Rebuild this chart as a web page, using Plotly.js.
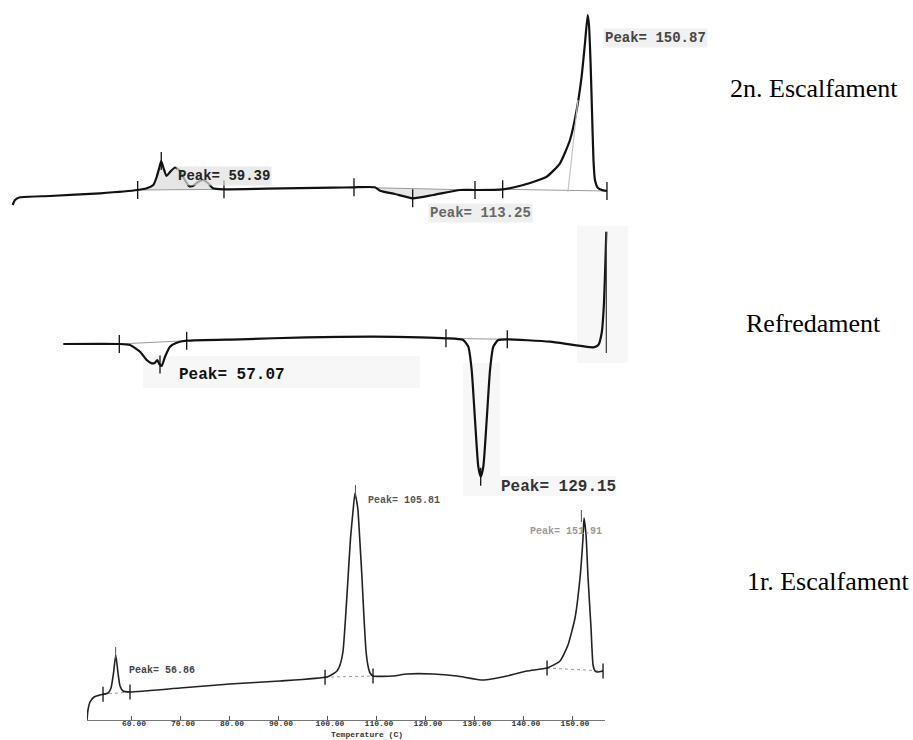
<!DOCTYPE html>
<html>
<head>
<meta charset="utf-8">
<script src="https://cdn.plot.ly/plotly-3.0.1.min.js"></script>
<style>html,body{margin:0;padding:0;background:#fff;}#chart{width:913px;height:740px;}</style>
</head>
<body>
<div id="chart"></div>
<script>
// ---------- DATA (temperature in °C, signal in arbitrary heat-flow units) ----------
const panelNames = ["2n. Escalfament", "Refredament", "1r. Escalfament"];

// 2n. Escalfament (second heating)
const heat2_T = [27.63, 28.13, 29.2, 35.62, 46.33, 54.4, 56.33, 57.74, 58.47, 59.07, 59.45, 59.93, 60.57, 61.32, 62.39, 63.46, 64.53, 65.39, 66.24, 67.31, 68.38, 69.45, 70.52, 72.88, 82.02, 96.28, 100.72, 105.21, 106.29, 109.5, 113.29, 117.7, 123.41, 126.63, 132.56, 136.97, 141.98, 144.83, 146.97, 148.4, 149.46, 150.18, 150.76, 151.04, 151.36, 151.68, 152.0, 152.32, 152.96, 153.82, 154.89];
const heat2_S = [-1.5, -1.0, -0.73, -0.6, -0.33, 0, 0.17, 0.5, 1.3, 2.3, 2.9, 2.2, 1.4, 1.8, 2.25, 1.9, 1.0, 0.4, 0.4, 0.8, 1.0, 0.7, 0.17, 0.07, 0.13, 0.23, 0.27, 0.27, -0.07, -0.4, -0.83, -0.5, 0, 0, 0.07, 0.5, 1.33, 2.67, 5.0, 8.0, 11.33, 14.67, 17.5, 16.5, 13.0, 8.0, 3.0, 1.0, 0.2, 0, -0.1];
const heat2_limits = [54.4, 59.45, 72.88, 100.72, 113.29, 126.63, 132.56, 154.89];
const heat2_baseStart = [54.4, 100.72, 132.56];
const heat2_baseEnd = [72.88, 126.63, 154.89];
const heat2_peaks = [59.39, 113.25, 150.87];

// Refredament (cooling)
const cool_T = [35.29, 47.9, 50.31, 52.57, 54.07, 55.2, 55.94, 56.46, 56.91, 57.45, 58.2, 59.32, 60.83, 63.08, 75.09, 90.11, 105.04, 115.63, 121.48, 125.38, 126.51, 127.27, 128.02, 128.76, 129.3, 129.89, 130.65, 131.4, 132.14, 133.26, 135.29, 144.91, 154.66, 155.79, 156.55, 157.07, 157.45, 157.59];
const cool_S = [0, 0, -0.1, -0.77, -1.6, -1.93, -1.87, -1.6, -2.0, -2.2, -1.27, -0.27, 0.13, 0.33, 0.47, 0.67, 0.73, 0.67, 0.57, 0.4, -0.27, -2.6, -7.6, -12.27, -13.27, -12.27, -7.6, -2.6, -0.27, 0.4, 0.47, 0.23, -0.33, -0.1, 1.1, 4.1, 9.1, 11.23];
const cool_limits = [47.9, 57.07, 63.08, 121.48, 129.3, 135.29];
const cool_baseStart = [47.9, 121.48];
const cool_baseEnd = [63.08, 135.29];
const cool_peaks = [57.07, 129.15];
const cool_endT = [157.6, 157.6];
const cool_endS = [11.2, -0.9];

// 1r. Escalfament (first heating)
const heat1_T = [51.02, 51.22, 51.63, 52.45, 53.67, 55.31, 55.92, 56.43, 56.88, 57.35, 57.76, 58.37, 59.8, 70.0, 80.2, 90.4, 100.0, 101.2, 102.04, 102.65, 103.27, 103.78, 104.29, 104.8, 105.31, 105.71, 106.12, 106.33, 106.73, 107.14, 107.55, 107.96, 108.37, 108.78, 109.39, 113.47, 116.33, 121.63, 126.53, 131.84, 136.73, 140.82, 144.9, 147.55, 149.18, 150.61, 151.63, 152.24, 152.45, 152.86, 153.27, 153.88, 154.29, 154.69, 155.1, 156.33];
const heat1_S = [0, 1.0, 1.8, 2.3, 2.5, 2.7, 3.2, 4.7, 6.5, 4.7, 3.4, 2.9, 2.8, 3.2, 3.6, 3.9, 4.3, 4.6, 4.9, 5.5, 6.9, 10.2, 14.2, 18.2, 20.9, 22.7, 21.7, 20.9, 17.7, 14.2, 10.2, 6.9, 5.4, 4.7, 4.4, 4.4, 4.6, 4.6, 4.4, 4.0, 4.4, 4.9, 5.2, 5.9, 7.5, 10.2, 14.2, 18.2, 20.2, 18.5, 14.2, 9.2, 5.5, 4.9, 4.8, 4.9];
const heat1_limits = [54.29, 59.8, 99.6, 109.39, 144.9, 156.33];
const heat1_baseStart = [54.29, 99.6, 144.9];
const heat1_baseEnd = [59.8, 109.39, 156.33];
const heat1_peaks = [56.86, 105.81, 151.91];

const tempTicks = [60, 70, 80, 90, 100, 110, 120, 130, 140, 150];
const tempTickText = ["60.00", "70.00", "80.00", "90.00", "100.00", "110.00", "120.00", "130.00", "140.00", "150.00"];
const xTitle = "Temperature (C)";

// ---------- helpers ----------
const W = 913, H = 740;
const fx = p => p / W;
const fy = p => 1 - p / H;
function interp(T, S, t) {
  if (t <= T[0]) return S[0];
  for (let i = 1; i < T.length; i++) {
    if (t <= T[i]) { const r = (t - T[i-1]) / (T[i] - T[i-1]); return S[i-1] + r * (S[i] - S[i-1]); }
  }
  return S[S.length - 1];
}

const panels = [
  {T: heat2_T, S: heat2_S, lim: heat2_limits, bs: heat2_baseStart, be: heat2_baseEnd, xa: 'x', ya: 'y', lw: 2.2, half: 0.9, col: '#111',
   fills: [[0], [1]]},
  {T: cool_T, S: cool_S, lim: cool_limits, bs: cool_baseStart, be: cool_baseEnd, xa: 'x2', ya: 'y2', lw: 2.2, half: 0.9, col: '#111', fills: []},
  {T: heat1_T, S: heat1_S, lim: heat1_limits, bs: heat1_baseStart, be: heat1_baseEnd, xa: 'x3', ya: 'y3', lw: 1.6, half: 0.75, col: '#222', fills: []}
];

const traces = [];
panels.forEach((p, k) => {
  // shaded peak areas (top panel)
  p.fills.forEach(([i]) => {
    const t0 = p.bs[i], t1 = p.be[i];
    traces.push({x: [t0, t1], y: [interp(p.T, p.S, t0), interp(p.T, p.S, t1)], xaxis: p.xa, yaxis: p.ya,
      mode: 'lines', line: {color: 'rgba(0,0,0,0)', width: 0}, hoverinfo: 'skip', showlegend: false});
    const xs = [], ys = [];
    p.T.forEach((t, j) => { if (t >= t0 && t <= t1) { xs.push(t); ys.push(p.S[j]); } });
    traces.push({x: xs, y: ys, xaxis: p.xa, yaxis: p.ya, mode: 'lines', fill: 'tonexty',
      fillcolor: 'rgba(200,200,200,0.45)', line: {color: 'rgba(0,0,0,0)', width: 0}, hoverinfo: 'skip', showlegend: false});
  });
  // integration baselines
  p.bs.forEach((t0, i) => {
    const t1 = p.be[i];
    traces.push({x: [t0, t1], y: [interp(p.T, p.S, t0), interp(p.T, p.S, t1)], xaxis: p.xa, yaxis: p.ya,
      mode: 'lines', line: {color: '#9a9a9a', width: 1, dash: k === 2 ? 'dot' : 'solid'}, hoverinfo: 'skip', showlegend: false});
  });
  // the curve
  traces.push({x: p.T, y: p.S, xaxis: p.xa, yaxis: p.ya, mode: 'lines',
    line: {color: p.col, width: p.lw, shape: 'spline', smoothing: 0.5}, name: panelNames[k], showlegend: false});
  // limit markers
  const lx = [], ly = [];
  p.lim.forEach(t => { const s = interp(p.T, p.S, t); lx.push(t, t, null); ly.push(s - p.half, s + p.half, null); });
  traces.push({x: lx, y: ly, xaxis: p.xa, yaxis: p.ya, mode: 'lines', line: {color: '#111', width: 1.3},
    hoverinfo: 'skip', showlegend: false});
});

// grey tangent line inside 150.87 peak (top panel)
traces.push({x: [146.53, 148.67], y: [-0.2, 9.0], xaxis: 'x', yaxis: 'y', mode: 'lines',
  line: {color: '#c4c4c4', width: 1.2}, hoverinfo: 'skip', showlegend: false});
// end line of cooling record
traces.push({x: cool_endT, y: cool_endS, xaxis: 'x2', yaxis: 'y2', mode: 'lines',
  line: {color: '#444', width: 1.3}, hoverinfo: 'skip', showlegend: false});
// peak markers on first heating
(function () {
  const mx = [], my = [];
  heat1_peaks.forEach(t => {
    let best = 0; heat1_T.forEach((v, j) => { if (Math.abs(v - t) < 1.2 && heat1_S[j] > best) best = heat1_S[j]; });
    mx.push(t, t, null); my.push(best - 0.4, best + 0.8, null);
  });
  traces.push({x: mx, y: my, xaxis: 'x3', yaxis: 'y3', mode: 'lines', line: {color: '#555', width: 1},
    hoverinfo: 'skip', showlegend: false});
})();

const mono = 'Liberation Mono, DejaVu Sans Mono, monospace';
const peakLabel = v => 'Peak= ' + v.toFixed(2);
const labelStyle = [
  // [text, left px, center px, size, color, bg]
  [peakLabel(heat2_peaks[0]), 176, 176, 14, '#222', 'rgba(225,225,225,0.7)'],
  [peakLabel(heat2_peaks[1]), 428, 213, 14, '#666', 'rgba(235,235,235,0.8)'],
  [peakLabel(heat2_peaks[2]), 603, 38, 14, '#444', 'rgba(238,238,238,0.8)'],
  [peakLabel(cool_peaks[0]), 177, 375, 16, '#111', 'rgba(0,0,0,0)'],
  [peakLabel(cool_peaks[1]), 499, 487, 16, '#333', 'rgba(0,0,0,0)'],
  [peakLabel(heat1_peaks[0]), 127, 670, 10, '#444', 'rgba(0,0,0,0)'],
  [peakLabel(heat1_peaks[1]), 366, 500, 10, '#555', 'rgba(0,0,0,0)'],
  [peakLabel(heat1_peaks[2]), 528, 531, 10, '#999', 'rgba(0,0,0,0)']
];
const annotations = labelStyle.map(([t, x, y, s, c, bg]) => ({
  text: t, xref: 'paper', yref: 'paper', x: fx(x), y: fy(y), xanchor: 'left', yanchor: 'middle',
  showarrow: false, bgcolor: bg, borderpad: 1, font: {family: mono, size: s, color: c, weight: 700}
}));
const nameY = [88, 323, 581];
const nameX = [728, 744, 745];
panelNames.forEach((n, i) => annotations.push({
  text: n, xref: 'paper', yref: 'paper', x: fx(nameX[i]), y: fy(nameY[i]), xanchor: 'left', yanchor: 'middle',
  showarrow: false, font: {family: 'Liberation Serif, Times New Roman, serif', size: 26, color: '#000'}
}));
annotations.push({text: xTitle, xref: 'paper', yref: 'paper', x: fx(367), y: 0, xanchor: 'center', yanchor: 'bottom',
  showarrow: false, borderpad: 0, font: {family: mono, size: 8, color: '#333', weight: 700}});

// faint scan patches
const patch = (x0, y0, x1, y1, c) => ({type: 'rect', xref: 'paper', yref: 'paper', x0: fx(x0), x1: fx(x1), y0: fy(y1), y1: fy(y0),
  fillcolor: c || '#f7f7f7', line: {width: 0}, layer: 'below'});
const shapes = [
  patch(143, 356, 420, 388), patch(577, 226, 628, 363), patch(463, 363, 500, 496), patch(463, 476, 616, 496)
];

const hidden = {visible: false, fixedrange: true};
const layout = {
  width: W, height: H, margin: {l: 0, r: 0, t: 0, b: 0}, paper_bgcolor: '#fff', plot_bgcolor: 'rgba(0,0,0,0)',
  showlegend: false,
  xaxis: Object.assign({domain: [fx(10), fx(610)], range: [27.06, 155.54], anchor: 'y'}, hidden),
  yaxis: Object.assign({domain: [fy(215), fy(5)], range: [-2.5, 18.5], anchor: 'x'}, hidden),
  xaxis2: Object.assign({domain: [fx(55), fx(615)], range: [33.42, 159.55], anchor: 'y2'}, hidden),
  yaxis2: Object.assign({domain: [fy(495), fy(225)], range: [-15.1, 11.9], anchor: 'x2'}, hidden),
  xaxis3: {domain: [fx(87), fx(605)], range: [51.02, 156.73], anchor: 'y3', fixedrange: true,
    showline: true, linecolor: '#777', linewidth: 1, showgrid: false, zeroline: false,
    tickmode: 'array', tickvals: tempTicks, ticktext: tempTickText, ticks: 'inside', ticklen: 4, tickcolor: '#555',
    ticklabelshift: 3, ticklabelstandoff: -5, tickfont: {family: mono, size: 8, color: '#333', weight: 700}},
  yaxis3: Object.assign({domain: [fy(720), fy(478)], range: [0, 24.2], anchor: 'x3'}, hidden),
  annotations: annotations, shapes: shapes
};

Plotly.newPlot('chart', traces, layout, {staticPlot: true, displayModeBar: false});
</script>
</body>
</html>
